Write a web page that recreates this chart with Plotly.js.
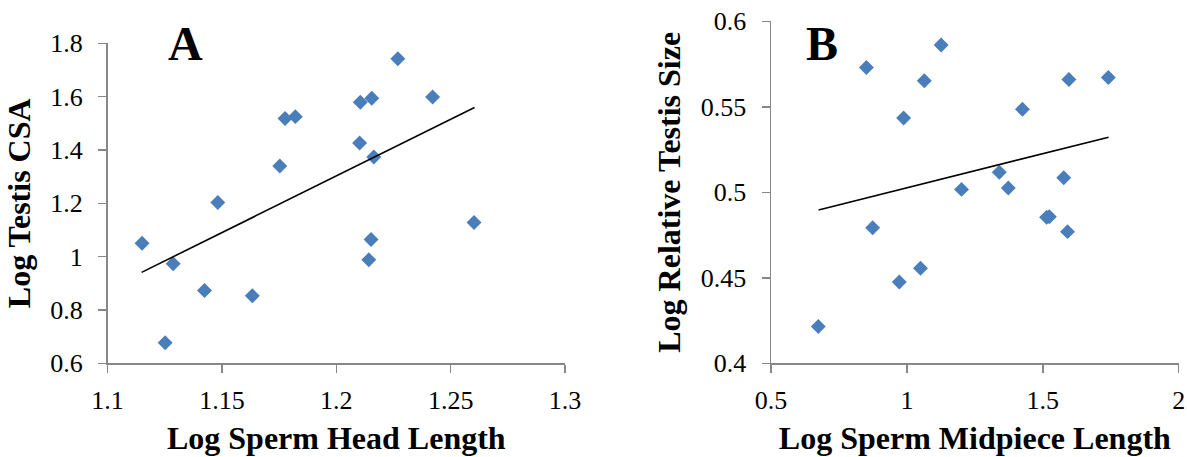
<!DOCTYPE html>
<html>
<head>
<meta charset="utf-8">
<script src="https://cdn.plot.ly/plotly-3.0.1.min.js"></script>
<style>
html,body{margin:0;padding:0;background:#fff;}
#chart{width:1187px;height:457px;}
</style>
</head>
<body>
<div id="chart"></div>
<script>
// ---- Data ----
var headLength = [1.1151,1.1252,1.1287,1.1424,1.1482,1.1633,1.1753,1.1776,1.1821,1.2102,1.2105,1.2155,1.2164,1.2152,1.2142,1.2269,1.2421,1.2602];
var testisCSA  = [1.050,0.677,0.973,0.873,1.203,0.853,1.340,1.518,1.525,1.426,1.579,1.594,1.374,1.064,0.988,1.742,1.599,1.128];

var midpieceLength = [0.674,0.851,0.874,0.972,0.988,1.050,1.064,1.126,1.201,1.340,1.373,1.425,1.514,1.524,1.577,1.591,1.596,1.741];
var relTestisSize  = [0.4215,0.573,0.4793,0.4475,0.5434,0.4556,0.5652,0.5862,0.5017,0.5117,0.5025,0.5486,0.4854,0.4857,0.5085,0.477,0.566,0.5671];

var trendAx = [1.1149, 1.2604];
var trendAy = [0.941, 1.559];
var trendBx = [0.675, 1.742];
var trendBy = [0.4897, 0.5322];

var xTicksA = [1.1,1.15,1.2,1.25,1.3];
var xTickTextA = ["1.1","1.15","1.2","1.25","1.3"];
var yTicksA = [0.6,0.8,1.0,1.2,1.4,1.6,1.8];
var yTickTextA = ["0.6","0.8","1","1.2","1.4","1.6","1.8"];
var xTicksB = [0.5,1,1.5,2];
var xTickTextB = ["0.5","1","1.5","2"];
var yTicksB = [0.4,0.45,0.5,0.55,0.6];
var yTickTextB = ["0.4","0.45","0.5","0.55","0.6"];

// ---- Layout helpers ----
var W = 1187, H = 457;
function px(x){return x/W;}
function py(y){return 1 - y/H;}

var markerStyle = {symbol:'diamond', size:11.5, color:'#4a7ebb', line:{width:0}};
var lineStyle = {color:'#000000', width:1.6};

var traces = [
  {x:headLength, y:testisCSA, type:'scatter', mode:'markers', marker:markerStyle, xaxis:'x', yaxis:'y', hoverinfo:'x+y'},
  {x:trendAx, y:trendAy, type:'scatter', mode:'lines', line:lineStyle, xaxis:'x', yaxis:'y', hoverinfo:'skip'},
  {x:midpieceLength, y:relTestisSize, type:'scatter', mode:'markers', marker:markerStyle, xaxis:'x2', yaxis:'y2', hoverinfo:'x+y'},
  {x:trendBx, y:trendBy, type:'scatter', mode:'lines', line:lineStyle, xaxis:'x2', yaxis:'y2', hoverinfo:'skip'}
];

var tickFont = {family:'Liberation Serif, Times New Roman, serif', size:26, color:'#000'};
var titleFont = {family:'Liberation Serif, Times New Roman, serif', size:32, color:'#000', weight:'bold'};
var axisCommon = {
  showgrid:false, zeroline:false, showline:true, linecolor:'#878787', linewidth:1.5,
  ticks:'outside', ticklen:8, tickwidth:1.5, tickcolor:'#878787', tickfont:tickFont,
  tickmode:'array', fixedrange:true
};
function ax(extra){ return Object.assign({}, axisCommon, extra); }

var layout = {
  width:W, height:H,
  margin:{l:0,r:0,t:0,b:0},
  paper_bgcolor:'#fff', plot_bgcolor:'#fff',
  showlegend:false,
  xaxis: ax({domain:[px(107.5), px(565.1)], range:[1.1,1.3], tickvals:xTicksA, ticktext:xTickTextA, anchor:'y',
             ticklabelstandoff:5,
             title:{text:'<b>Log Sperm Head Length</b>', font:titleFont, standoff:12}}),
  yaxis: ax({domain:[py(363.3), py(43.3)], range:[0.6,1.8], tickvals:yTicksA, ticktext:yTickTextA, anchor:'x',
             ticklabelstandoff:10,
             title:{text:'<b>Log Testis CSA</b>', font:titleFont, standoff:10}}),
  xaxis2: ax({domain:[px(771), px(1178.7)], range:[0.5,2], tickvals:xTicksB, ticktext:xTickTextB, anchor:'y2',
             ticklabelstandoff:5,
             title:{text:'<b>Log Sperm Midpiece Length</b>', font:titleFont, standoff:12}}),
  yaxis2: ax({domain:[py(363.3), py(21.3)], range:[0.4,0.6], tickvals:yTicksB, ticktext:yTickTextB, anchor:'x2',
             ticklabelstandoff:10,
             title:{text:'<b>Log Relative Testis Size</b>', font:titleFont, standoff:10}}),
  annotations:[
    {text:'<b>A</b>', xref:'paper', yref:'paper', x:px(166), y:py(43.5), xanchor:'left', yanchor:'middle', showarrow:false,
     font:{family:'Liberation Serif, Times New Roman, serif', size:48, color:'#000'}},
    {text:'<b>B</b>', xref:'paper', yref:'paper', x:px(804), y:py(43.5), xanchor:'left', yanchor:'middle', showarrow:false,
     font:{family:'Liberation Serif, Times New Roman, serif', size:48, color:'#000'}}
  ]
};

Plotly.newPlot('chart', traces, layout, {displayModeBar:false, staticPlot:true});
</script>
</body>
</html>
